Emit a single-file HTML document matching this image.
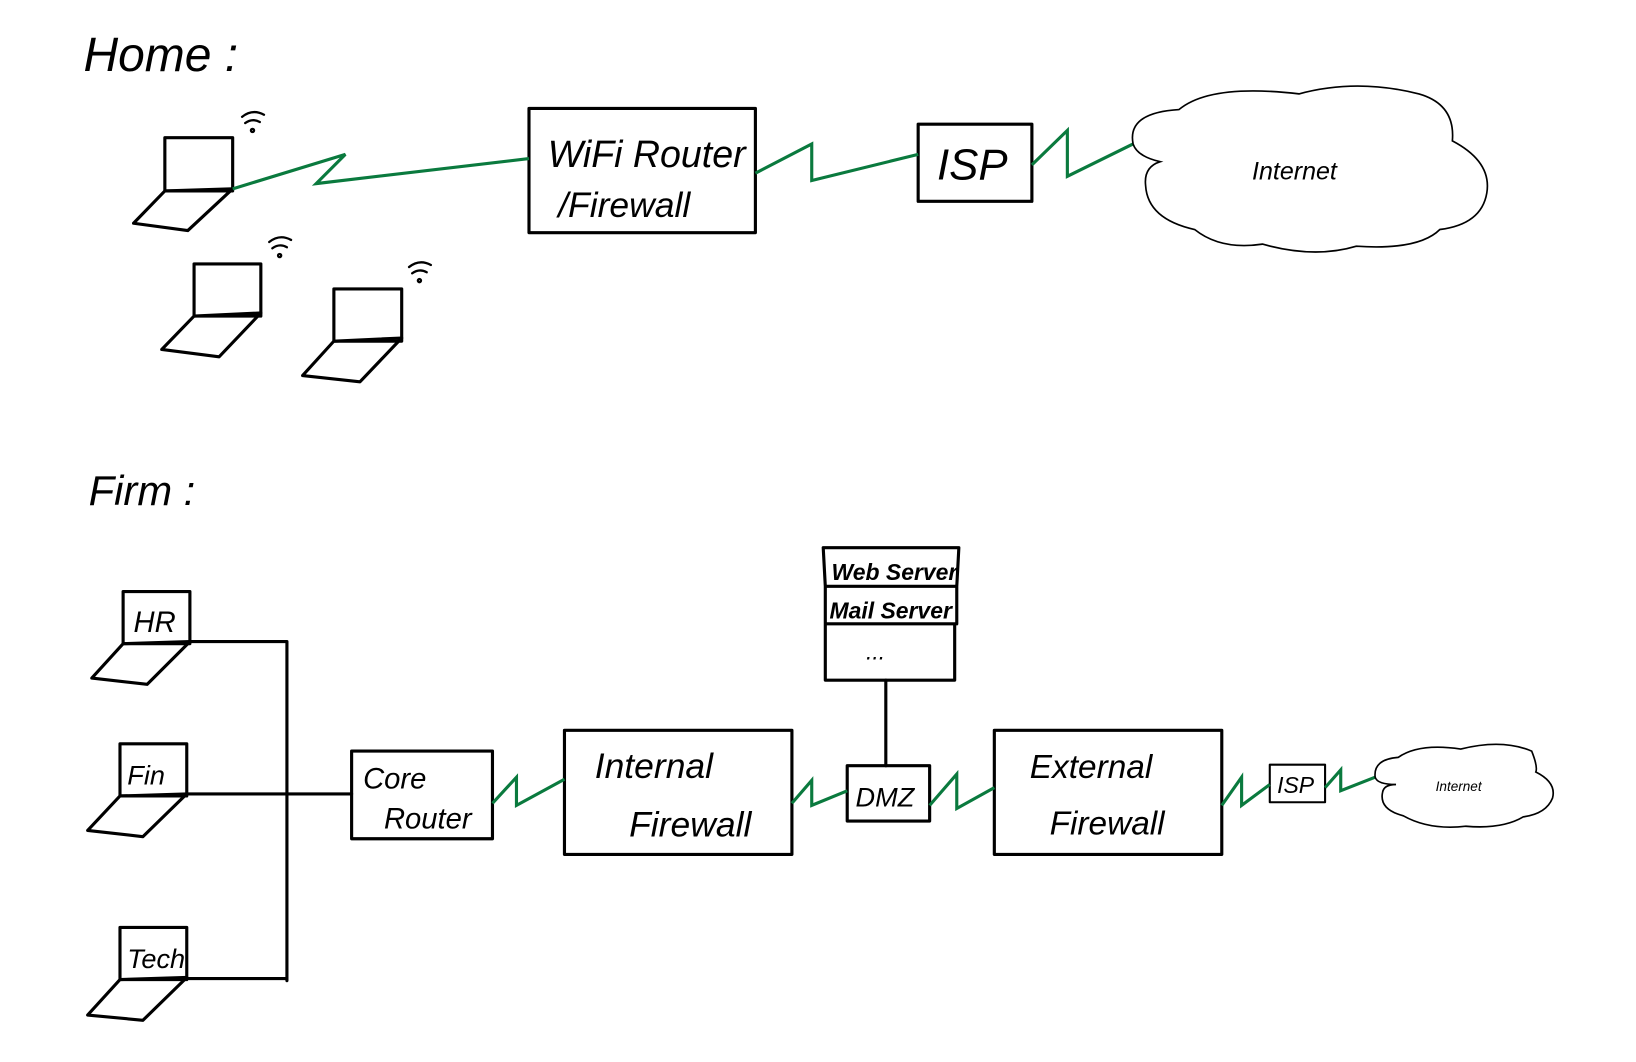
<!DOCTYPE html>
<html><head><meta charset="utf-8"><style>
html,body{margin:0;padding:0;background:#fff;}
svg{display:block;}
text{font-family:"Liberation Sans",sans-serif;fill:#000;}
</style></head><body>
<svg width="1636" height="1062" viewBox="0 0 1568 1018" preserveAspectRatio="none" xmlns="http://www.w3.org/2000/svg">
<g fill="none" stroke="#000" stroke-width="3" stroke-linejoin="round" stroke-linecap="round">
<!-- home laptops -->
<rect x="158" y="132" width="65" height="51"/>
<path d="M158,183 L223,181 L180,221 L128,214 Z"/>
<rect x="186" y="253" width="64" height="50"/>
<path d="M186,303 L250,300 L210,342 L155,335 Z"/>
<rect x="320" y="277" width="65" height="50"/>
<path d="M320,327 L385,324 L345,366 L290,360 Z"/>
<!-- boxes -->
<rect x="507" y="104" width="217" height="119"/>
<rect x="880" y="119" width="109" height="74"/>
<!-- firm laptops -->
<rect x="118" y="567" width="64" height="50"/>
<path d="M118,617 L182,615 L141,656 L88,650 Z"/>
<rect x="115" y="713" width="64" height="50"/>
<path d="M115,763 L179,761 L137,802 L84,796 Z"/>
<rect x="115" y="889" width="64" height="50"/>
<path d="M115,939 L179,937 L137,978 L84,973 Z"/>
<path d="M182,615 L275,615 L275,940 M179,761 L337,761 M179,938 L275,938"/>
<rect x="337" y="720" width="135" height="84"/>
<rect x="541" y="700" width="218" height="119"/>
<rect x="812" y="734" width="79" height="53"/>
<path d="M849,652 L849,734"/>
<path d="M789,525 L919,525 L917,562 L791,562 Z M791,562 L917,562 L917,598 L791,598 Z M791,598 L915,598 L915,652 L791,652 Z"/>
<rect x="953" y="700" width="218" height="119"/>
<rect x="1217" y="733" width="53" height="36" stroke-width="2"/>
</g>
<!-- wifi icons -->
<g fill="none" stroke="#000" stroke-width="2.2" stroke-linecap="round">
<path d="M232,112 Q242,104 253,110 M235,118 Q242,113 249,117"/><circle cx="242" cy="125" r="1.5"/>
<path d="M258,232 Q268,224 279,230 M261,238 Q268,233 275,237"/><circle cx="268" cy="245" r="1.5"/>
<path d="M392,256 Q402,248 413,254 M395,262 Q402,257 409,261"/><circle cx="402" cy="269" r="1.5"/>
</g>
<!-- green links -->
<g fill="none" stroke="#0a7a3e" stroke-width="3" stroke-linejoin="miter">
<path d="M223,181 L331,148 L303,176 L507,152"/>
<path d="M724,166 L778,138 L778,173 L880,148"/>
<path d="M989,158 L1023,125 L1023,169 L1086,138"/>
<path d="M472,770 L495,745 L495,772 L541,747"/>
<path d="M759,770 L778,748 L778,772 L812,758"/>
<path d="M891,772 L917,742 L917,775 L953,755"/>
<path d="M1171,772 L1190,745 L1190,772 L1217,752"/>
<path d="M1270,755 L1285,738 L1285,758 L1318,745"/>
</g>
<!-- clouds -->
<g fill="none" stroke="#000" stroke-width="1.6">
<path d="M1086,138 Q1080,108 1130,105 Q1160,80 1245,90 Q1300,75 1360,90 Q1395,100 1392,135 Q1430,155 1425,185 Q1420,215 1380,220 Q1360,240 1300,236 Q1260,248 1210,234 Q1170,240 1145,220 Q1100,210 1098,178 Q1096,160 1112,155 Q1090,150 1086,138 Z"/>
<path d="M1318,745 Q1316,728 1340,726 Q1360,712 1400,718 Q1440,708 1468,720 Q1474,735 1472,740 Q1492,750 1488,765 Q1482,780 1460,783 Q1440,795 1405,792 Q1370,796 1345,782 Q1322,776 1325,760 Q1326,752 1338,752 Q1320,752 1318,745 Z"/>
</g>
<!-- text -->
<g font-style="italic">
<text x="80" y="68" font-size="46">Home :</text>
<text x="85" y="484" font-size="40">Firm :</text>
<text x="525" y="160" font-size="36">WiFi Router</text>
<text x="535" y="208" font-size="34">/Firewall</text>
<text x="898" y="172" font-size="42">ISP</text>
<text x="1200" y="172" font-size="24">Internet</text>
<text x="128" y="606" font-size="28">HR</text>
<text x="122" y="752" font-size="26">Fin</text>
<text x="122" y="928" font-size="26">Tech</text>
<text x="348" y="756" font-size="28">Core</text>
<text x="368" y="794" font-size="28">Router</text>
<text x="570" y="746" font-size="34">Internal</text>
<text x="603" y="802" font-size="34">Firewall</text>
<text x="820" y="773" font-size="26">DMZ</text>
<text x="797" y="556" font-size="22" font-weight="bold">Web Server</text>
<text x="795" y="593" font-size="22" font-weight="bold">Mail Server</text>
<text x="830" y="632" font-size="22">...</text>
<text x="987" y="746" font-size="32">External</text>
<text x="1006" y="800" font-size="32">Firewall</text>
<text x="1224" y="760" font-size="22">ISP</text>
<text x="1376" y="758" font-size="13">Internet</text>
</g>
</svg>
</body></html>
